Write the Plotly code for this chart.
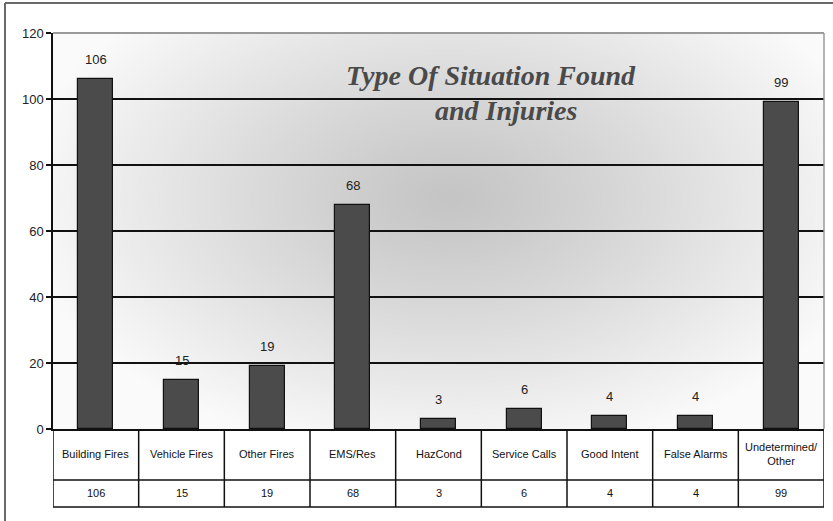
import base64
import struct
import zlib

import numpy as np
import plotly.graph_objects as go

# Incident counts by situation type
categories = ["Building Fires", "Vehicle Fires", "Other Fires", "EMS/Res", "HazCond",
              "Service Calls", "Good Intent", "False Alarms", "Undetermined/<br>Other"]
counts = [106, 15, 19, 68, 3, 6, 4, 4, 99]
y_ticks = [0, 20, 40, 60, 80, 100, 120]

W, H = 833, 521
L, R, T, B = 53, 9, 33, 92
PW, PH = W - L - R, H - T - B


def px_to_paper_x(px):
    return (px - L) / PW


def py_to_paper_y(py):
    return (H - B - py) / PH


def gray_png(arr):
    """Encode a 2-D uint8 array as a grayscale PNG data URI."""
    h, w = arr.shape
    raw = b"".join(b"\x00" + row.tobytes() for row in arr)

    def chunk(tag, data):
        c = struct.pack(">I", len(data)) + tag + data
        return c + struct.pack(">I", zlib.crc32(tag + data) & 0xFFFFFFFF)

    png = b"\x89PNG\r\n\x1a\n"
    png += chunk(b"IHDR", struct.pack(">IIBBBBB", w, h, 8, 0, 0, 0, 0))
    png += chunk(b"IDAT", zlib.compress(raw, 9))
    png += chunk(b"IEND", b"")
    return "data:image/png;base64," + base64.b64encode(png).decode()


# Radial shaded backdrop for the plot area
gx, gy = np.meshgrid(np.arange(PW), np.arange(PH))
cx, cy = 397, 165
t = np.sqrt(((gx - cx) / 430.0) ** 2 + ((gy - cy) / 260.0) ** 2)
t = np.clip(t, 0, 1)
shade = (197 + 53 * t ** 1.15).clip(0, 255).astype(np.uint8)
backdrop = gray_png(shade)

xs = list(range(len(categories)))

fig = go.Figure()
fig.add_trace(go.Bar(
    x=xs, y=counts, width=0.41,
    marker=dict(color="#4b4b4b", line=dict(color="#111111", width=1.2)),
    hoverinfo="skip", showlegend=False,
))

annotations = []
label_font = dict(family="Arial, Liberation Sans, sans-serif", size=13, color="#222222")
cell_font = dict(family="Arial, Liberation Sans, sans-serif", size=11, color="#111111")

# Value labels above bars
for x, v in zip(xs, counts):
    annotations.append(dict(x=x, y=v, xref="x", yref="y", text=str(v), showarrow=False,
                            yanchor="bottom", yshift=10, font=label_font))

# Data table under the axis: category row and value row
row1_y = py_to_paper_y(454)
row2_y = py_to_paper_y(493)
for x, name, v in zip(xs, categories, counts):
    annotations.append(dict(x=x, y=row1_y, xref="x", yref="paper", text=name, showarrow=False,
                            yanchor="middle", font=cell_font))
    annotations.append(dict(x=x, y=row2_y, xref="x", yref="paper", text=str(v), showarrow=False,
                            yanchor="middle", font=cell_font))

# Title
title_font = dict(family="Liberation Serif, Times New Roman, serif", size=28, color="#4a4a4a")
annotations.append(dict(x=px_to_paper_x(491), y=py_to_paper_y(86), xref="paper", yref="paper",
                        text="<b><i>Type Of Situation Found</i></b>", showarrow=False,
                        yanchor="bottom", yshift=-7, font=title_font))
annotations.append(dict(x=px_to_paper_x(506), y=py_to_paper_y(121), xref="paper", yref="paper",
                        text="<b><i>and Injuries</i></b>", showarrow=False,
                        yanchor="bottom", yshift=-7, font=title_font))

shapes = []
line_k = dict(color="#111111", width=1.5)
# table horizontal rules
for py in (480, 507):
    shapes.append(dict(type="line", xref="x", yref="paper", x0=-0.5, x1=len(xs) - 0.5,
                       y0=py_to_paper_y(py), y1=py_to_paper_y(py), line=line_k))
# table column dividers
for k in range(len(xs) + 1):
    shapes.append(dict(type="line", xref="x", yref="paper", x0=k - 0.5, x1=k - 0.5,
                       y0=0, y1=py_to_paper_y(507), line=line_k))
# plot frame top and right in gray
shapes.append(dict(type="line", xref="paper", yref="paper", x0=0, x1=1, y0=1, y1=1,
                   line=dict(color="#9a9a9a", width=2)))
shapes.append(dict(type="line", xref="paper", yref="paper", x0=1, x1=1, y0=0, y1=1,
                   line=dict(color="#9a9a9a", width=1.5)))
# outer chart border: top and left edges
shapes.append(dict(type="line", xref="paper", yref="paper",
                   x0=px_to_paper_x(5), x1=px_to_paper_x(834),
                   y0=py_to_paper_y(3), y1=py_to_paper_y(3),
                   line=dict(color="#6a6a6a", width=2)))
shapes.append(dict(type="line", xref="paper", yref="paper",
                   x0=px_to_paper_x(5), x1=px_to_paper_x(5),
                   y0=py_to_paper_y(3), y1=py_to_paper_y(521),
                   line=dict(color="#6a6a6a", width=2)))

fig.update_layout(
    width=W, height=H,
    margin=dict(l=L, r=R, t=T, b=B, pad=0),
    paper_bgcolor="white", plot_bgcolor="white",
    bargap=0,
    xaxis=dict(range=[-0.5, len(xs) - 0.5], showticklabels=False, showgrid=False,
               zeroline=False, showline=True, linecolor="#111111", linewidth=1.5,
               ticks=""),
    yaxis=dict(range=[0, 120], tickvals=y_ticks, showgrid=True, gridcolor="#111111",
               gridwidth=1.5, zeroline=False, showline=True, linecolor="#111111",
               linewidth=1.5, ticks="outside", ticklen=5, tickcolor="#111111",
               tickwidth=1.5, tickfont=label_font),
    images=[dict(source=backdrop, xref="paper", yref="paper", x=0, y=1, sizex=1, sizey=1,
                 sizing="stretch", xanchor="left", yanchor="top", layer="below")],
    annotations=annotations,
    shapes=shapes,
)

fig.write_html("out.html")
